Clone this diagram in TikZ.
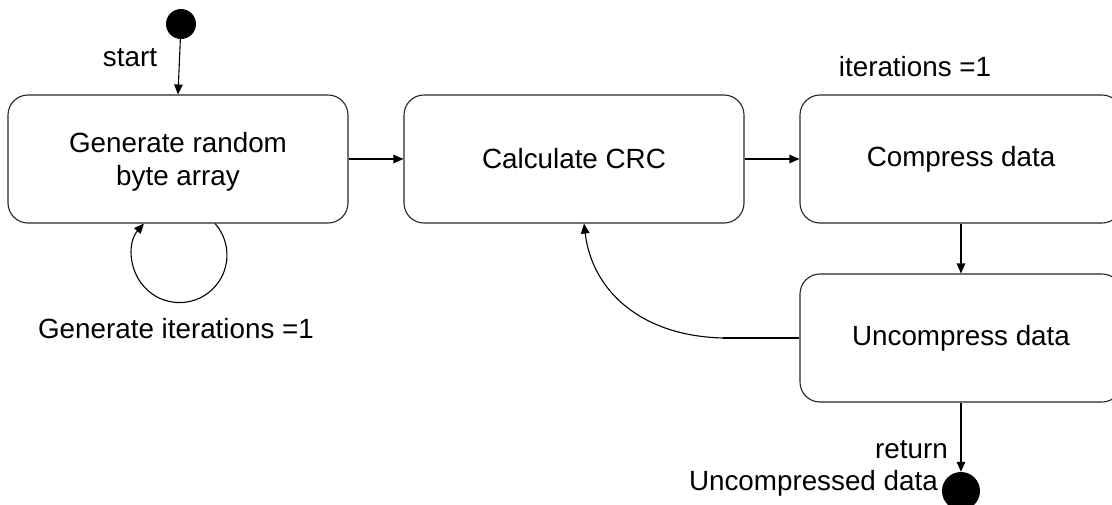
\documentclass[tikz,border=0pt]{standalone}
\usepackage{fontspec}
\setmainfont{Liberation Sans}
\usetikzlibrary{arrows.meta}
\begin{document}
\begin{tikzpicture}[x=1pt,y=-1pt,
  every node/.style={font=\fontsize{27.8}{32.5}\selectfont},
  state/.style={draw=black!85,line width=1.1pt,rounded corners=20pt,
    minimum height=128pt,inner sep=0pt,align=center},
  dot/.style={circle,fill=black,inner sep=0pt},
  lbl/.style={inner sep=0pt},
  conn/.style={line width=1.1pt,-{Triangle[length=10pt,width=8.5pt]}}]
\useasboundingbox (0,0) rectangle (1112,504);
\begin{scope}
\clip (0,0) rectangle (1112,504);
\node[state,minimum width=340pt] (b1) at (178,159) {};
\node[lbl,align=center] (t1) at (178,162) {Generate random\\byte array};
\node[state,minimum width=340pt] (b2) at (574,159) {Calculate CRC};
\node[state,minimum width=322pt] (b3) at (961,159) {Compress data};
\node[state,minimum width=322pt] (b4) at (961,338) {Uncompress data};
\node[dot,minimum size=30pt] (s) at (181,24) {};
\node[dot,minimum size=38pt] (e) at (961,491) {};
\node[lbl] (ls) at (130,58) {start};
\node[lbl] (lg) at (176,329) {Generate iterations =1};
\node[lbl] (li) at (915,67) {iterations =1};
\node[lbl,anchor=east] (lr) at (948,450) {return};
\node[lbl,anchor=east] (lu) at (938,483) {Uncompressed data};
\draw[conn] (s) -- (b1.north);
\draw[conn] (b1.east) -- (b2.west);
\draw[conn] (b2.east) -- (b3.west);
\draw[conn] (b3.south) -- (b4.north);
\draw[conn] (b4.south) -- (e.north);
\draw[conn] ([xshift=37pt]b1.south) arc[start angle=-41.6,end angle=221.6,radius=47.5];
\coordinate (c1) at (723,338);
\draw[line width=1.1pt] (b4.west) -- (c1);
\draw[conn] (c1) .. controls (640,336) and (592,290) .. ([xshift=10pt]b2.south);
\end{scope}
\end{tikzpicture}
\end{document}
